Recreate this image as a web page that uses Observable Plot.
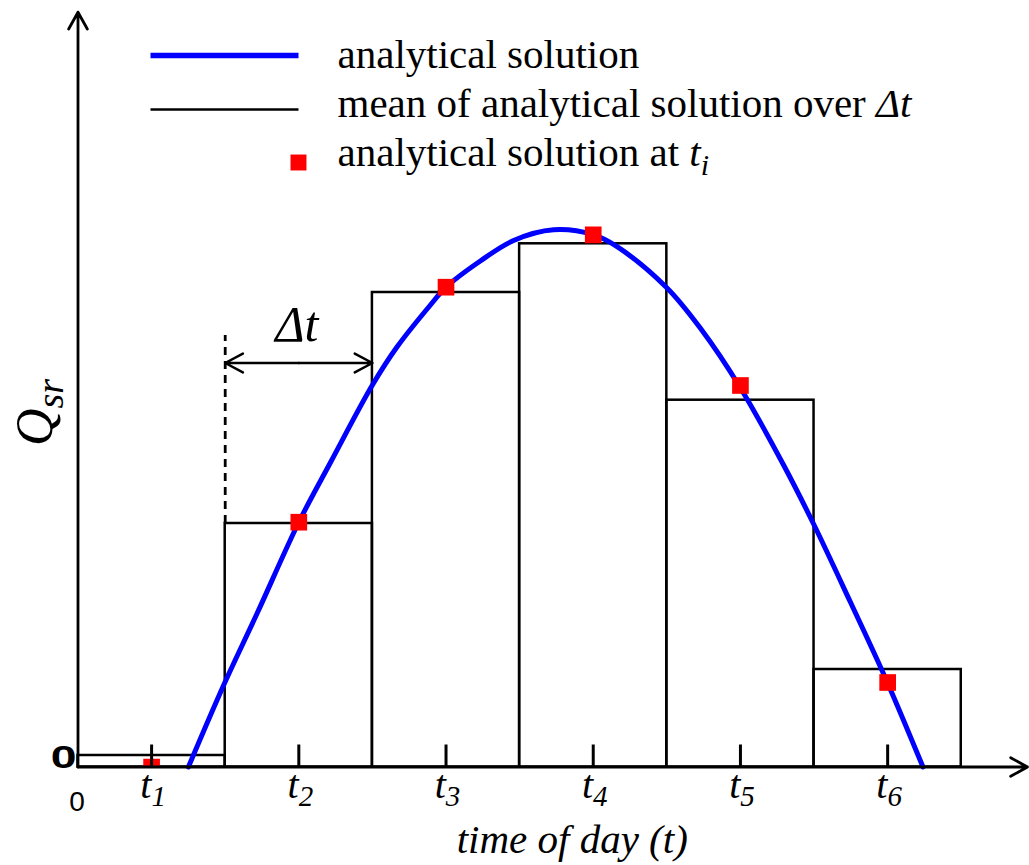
<!DOCTYPE html>
<html><head><meta charset="utf-8">
<script src="https://cdn.jsdelivr.net/npm/d3@7"></script>
<script src="https://cdn.jsdelivr.net/npm/@observablehq/plot@0.6"></script>
<style>body{margin:0;background:#fff;} svg{display:block}</style>
</head><body><div id="chart"></div>
<script>
// ---------- data ----------
const tIndex = [1, 2, 3, 4, 5, 6];
const tickSubscripts = ["1", "2", "3", "4", "5", "6"];
const meanOverDt = [0.115, 2.435, 4.745, 5.232, 3.668, 0.975];
const valueAtT = [0, 2.448, 4.798, 5.322, 3.815, 0.845];
const curveT = [1.250, 1.490, 1.717, 1.999, 2.215, 2.498, 2.668, 2.894, 3.000, 3.233, 3.459, 3.731, 3.999, 4.162, 4.498, 4.727, 4.994, 5.293, 5.497, 5.746, 5.995, 6.240];
const curveQ = [0, 0.82, 1.537, 2.445, 3.045, 3.815, 4.202, 4.62, 4.798, 5.06, 5.265, 5.372, 5.323, 5.203, 4.795, 4.389, 3.805, 3.02, 2.43, 1.652, 0.856, 0];
const legendLabels = ["analytical solution", "mean of analytical solution over *Δt*", "analytical solution at *t*_{i}"];
const dtLabel = "Δt";
const dtArrowY = 4.04;
const dtDashTop = 4.315;
const xAxisTitle = "time of day (t)";
const yAxisTitle = "*Q*_{sr}";
const originLabel = "0";
const xDomain = [0.5, 6.95];
const yDomain = [0, 7.548];

// ---------- layout ----------
const W = 1029, H = 865, mL = 77.5, mR = 2, mT = 11.7, mB = 98.5;
const X = d3.scaleLinear(xDomain, [mL, W - mR]);
const Y = d3.scaleLinear(yDomain, [H - mB, mT]);

const bars = tIndex.map((t, i) => ({t, mean: meanOverDt[i]}));
const pts = tIndex.map((t, i) => ({t, q: valueAtT[i]}));
const curve = curveT.map((t, i) => ({t, q: curveQ[i]}));
const dtEdge = tIndex[1] - 0.5;

const legendRows = legendLabels.map((label, i) => ({label, y: Y.invert(67 + 49 * i)}));
const swX1 = X.invert(150), swX2 = X.invert(298);

const serif = "Liberation Serif, Times New Roman, serif";
const sans = "Liberation Sans, Arial, sans-serif";

const chart = Plot.plot({
  width: W, height: H,
  marginLeft: mL, marginRight: mR, marginTop: mT, marginBottom: mB,
  x: {domain: xDomain, axis: null},
  y: {domain: yDomain, axis: null},
  style: {background: "white", fontFamily: serif},
  marks: [
    // mean over Δt bars
    Plot.rectY(bars, {x1: d => d.t - 0.5, x2: d => d.t + 0.5, y1: 0, y2: "mean", fill: "none", stroke: "black", strokeWidth: 2.5}),
    // Δt annotation
    Plot.ruleX([dtEdge], {y1: meanOverDt[1], y2: dtDashTop, stroke: "black", strokeWidth: 2.8, strokeDasharray: "8,6"}),
    Plot.arrow([0], {x1: tIndex[1], x2: dtEdge, y1: dtArrowY, y2: dtArrowY, stroke: "black", strokeWidth: 2.5, headLength: 12, headAngle: 56}),
    Plot.arrow([0], {x1: tIndex[1], x2: dtEdge + 1, y1: dtArrowY, y2: dtArrowY, stroke: "black", strokeWidth: 2.5, headLength: 12, headAngle: 56}),
    Plot.text([dtLabel], {x: tIndex[1], y: dtArrowY, text: d => d, dx: -2, dy: -22.5, lineAnchor: "bottom", fontSize: 50, fontStyle: "italic", fontFamily: serif, fill: "black"}),
    // analytical solution
    Plot.line(curve, {x: "t", y: "q", stroke: "#0000ff", strokeWidth: 5, curve: "catmull-rom"}),
    Plot.dot(pts, {x: "t", y: "q", symbol: "square", r: 9.4, fill: "#ff0000", stroke: "none", clip: true}),
    // ticks
    Plot.ruleX(tIndex, {x: d => d, insetTop: (H - mB - mT) - 22, stroke: "black", strokeWidth: 3}),
    // axes
    Plot.arrow([0], {x1: xDomain[0], x2: xDomain[1], y1: 0, y2: 0, stroke: "black", strokeWidth: 2.8, headLength: 10.3, headAngle: 58}),
    Plot.arrow([0], {x1: xDomain[0], x2: xDomain[0], y1: 0, y2: yDomain[1], stroke: "black", strokeWidth: 2.8, headLength: 10.3, headAngle: 58}),
    // tick labels
    Plot.text(tIndex, {x: d => d, y: 0, text: (d, i) => `t_{${tickSubscripts[i]}}`, dx: 1.5, dy: 30.5, lineAnchor: "bottom", textAnchor: "middle", fontSize: 40, fontStyle: "italic", fontFamily: serif, fill: "black", ariaDescription: "ticklabels"}),
    Plot.text([originLabel], {x: xDomain[0], y: 0, text: d => d, dx: -1.5, dy: 1, textAnchor: "end", lineAnchor: "bottom", fontSize: 32, fontWeight: "bold", fontFamily: sans, fill: "black", ariaDescription: "yzero"}),
    Plot.text([originLabel], {x: xDomain[0], y: 0, text: d => d, dx: -1, dy: 43.5, textAnchor: "middle", lineAnchor: "bottom", fontSize: 28, fontFamily: sans, fill: "black"}),
    // axis titles
    Plot.text([xAxisTitle], {frameAnchor: "bottom", text: d => d, dx: 19.5, dy: 85.5, lineAnchor: "bottom", textAnchor: "middle", fontSize: 41, fontStyle: "italic", fontFamily: serif, fill: "black"}),
    Plot.text([yAxisTitle], {frameAnchor: "left", text: d => d, rotate: -90, dx: 51 - mL, dy: 412 - (mT + H - mB) / 2, lineAnchor: "bottom", textAnchor: "middle", fontSize: 52, fontFamily: serif, fill: "black", ariaDescription: "ytitle"}),
    // legend
    Plot.link([0], {x1: swX1, x2: swX2, y1: Y.invert(55), y2: Y.invert(55), stroke: "#0000ff", strokeWidth: 5.5}),
    Plot.link([0], {x1: swX1, x2: swX2, y1: Y.invert(109), y2: Y.invert(109), stroke: "black", strokeWidth: 2.5}),
    Plot.dot([0], {x: swX2, y: Y.invert(162), symbol: "square", r: 9.0, fill: "#ff0000", stroke: "none"}),
    Plot.text(legendRows, {x: X.invert(337), y: "y", text: "label", textAnchor: "start", lineAnchor: "bottom", fontSize: 41, fontFamily: serif, fill: "black", ariaDescription: "legendtext"})
  ]
});

// ---------- rich text: *italic*, _{subscript} ----------
const NS = "http://www.w3.org/2000/svg";
function enrich(label, {subSize, subDy, sx} = {}) {
  chart.querySelectorAll(`g[aria-description="${label}"] text`).forEach(el => {
    const src = el.textContent;
    if (/[\*_]/.test(src)) {
      const tokens = src.split(/(\*[^*]+\*|_\{[^}]+\})/).filter(s => s);
      el.textContent = "";
      let shifted = 0;
      for (const tok of tokens) {
        const ts = document.createElementNS(NS, "tspan");
        let txt = tok, italic = false, sub = false;
        if (tok.startsWith("*")) { txt = tok.slice(1, -1); italic = true; }
        else if (tok.startsWith("_{")) { txt = tok.slice(2, -1); italic = true; sub = true; }
        if (italic) ts.setAttribute("font-style", "italic");
        const want = sub ? subDy : 0;
        if (want !== shifted) { ts.setAttribute("dy", want - shifted); shifted = want; }
        if (sub) ts.setAttribute("font-size", subSize);
        ts.textContent = txt;
        el.appendChild(ts);
      }
    }
    if (sx) el.setAttribute("transform", (el.getAttribute("transform") || "") + ` scale(${sx},1)`);
  });
}
enrich("ticklabels", {subSize: 29, subDy: 8});
enrich("legendtext", {subSize: 30, subDy: 9});
enrich("ytitle", {subSize: 38, subDy: 11});
enrich("yzero", {sx: 1.45});

document.getElementById("chart").appendChild(chart);
</script>
</body></html>
